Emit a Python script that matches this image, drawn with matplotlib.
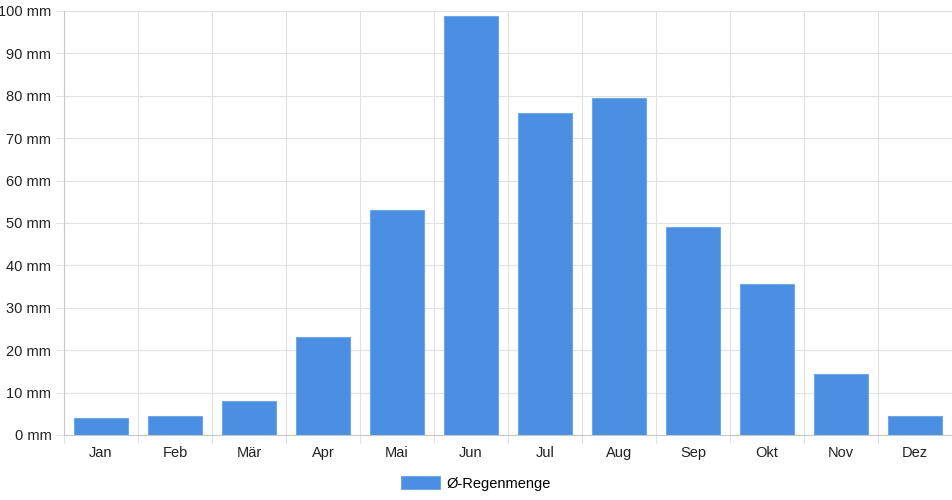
import matplotlib.pyplot as plt
import numpy as np

months = ["Jan", "Feb", "Mär", "Apr", "Mai", "Jun", "Jul", "Aug", "Sep", "Okt", "Nov", "Dez"]
rain_mm = [4.1, 4.4, 8.0, 23.0, 53.1, 98.9, 75.9, 79.4, 49.1, 35.5, 14.4, 4.5]
y_ticks = [0, 10, 20, 30, 40, 50, 60, 70, 80, 90, 100]

plt.rcParams['font.family'] = ['Liberation Sans', 'DejaVu Sans']
grid_col = '#e1e1e1'
bar_col = '#4a8fe1'

fig = plt.figure(figsize=(9.52, 5.0), dpi=100)
ax = fig.add_axes([64 / 952, 65 / 500, 888 / 952, 424 / 500])

x = np.arange(len(months))
ax.bar(x, rain_mm, width=0.72, color=bar_col, edgecolor='#6fa6e8', linewidth=0.8,
       label='Ø-Regenmenge', zorder=3)

ax.set_xlim(-0.5, len(months) - 0.5)
ax.set_ylim(0, 100)
ax.set_yticks(y_ticks)
ax.set_yticklabels([f"{v} mm" for v in y_ticks])
ax.set_xticks(x)
ax.set_xticklabels(months)
ax.set_xticks(np.arange(-0.5, len(months), 1), minor=True)

ax.grid(axis='y', which='major', color=grid_col, linewidth=0.8, zorder=0)
ax.grid(axis='x', which='minor', color=grid_col, linewidth=0.8, zorder=0)
ax.tick_params(axis='x', which='major', length=0, pad=8, labelsize=10.5, colors='#222222')
ax.tick_params(axis='x', which='minor', length=6, color=grid_col, width=0.8)
ax.tick_params(axis='y', length=6, color=grid_col, width=0.8, pad=3, labelsize=10.5,
               labelcolor='#222222')

for side in ['top', 'right']:
    ax.spines[side].set_visible(False)
for side in ['left', 'bottom']:
    ax.spines[side].set_color('#c8c8c8')
    ax.spines[side].set_linewidth(0.8)

fig.legend(loc='lower center', bbox_to_anchor=(0.5, -0.008), frameon=False, fontsize=10.5,
           handlelength=2.7, handleheight=1.0, handletextpad=0.45)

fig.savefig('out.png', dpi=100)
